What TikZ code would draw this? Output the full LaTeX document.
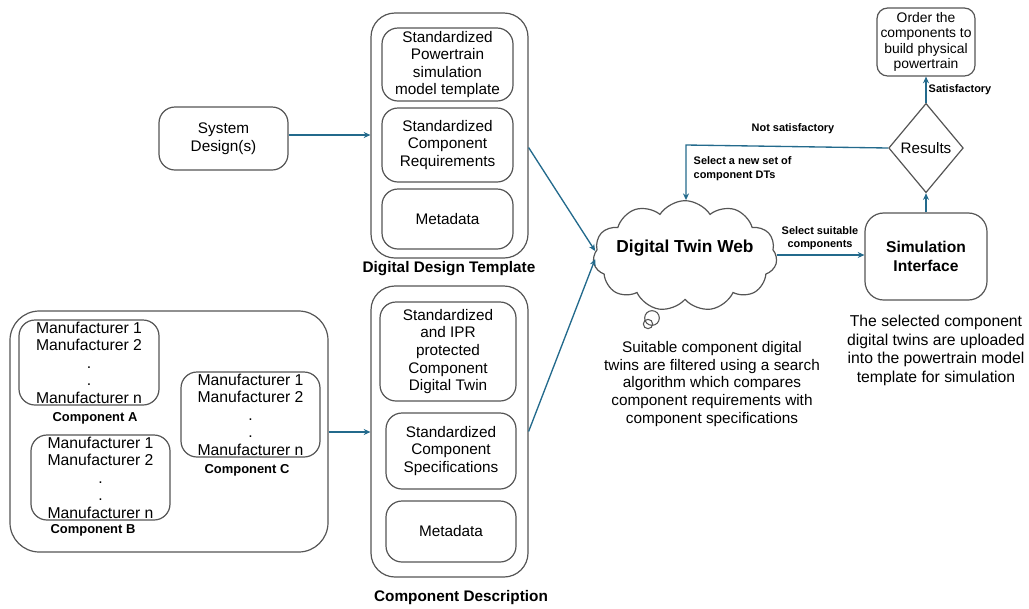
\documentclass[tikz,border=0pt]{standalone}
\usepackage{fontspec}
\setmainfont{Liberation Sans}
\usetikzlibrary{arrows.meta,shapes.geometric,shapes.symbols,calc}
\definecolor{flow}{HTML}{236A8C}
\definecolor{edge}{HTML}{555555}
\tikzset{
  box/.style={draw=edge, line width=0.9pt, rounded corners=#1, align=center, inner sep=1pt},
  box/.default=12pt,
  outer/.style={draw=edge, line width=0.9pt, rounded corners=18pt},
  txt/.style={font=\fontsize{11.5}{13.2}\selectfont},
  mtxt/.style={font=\fontsize{11.8}{13.1}\selectfont},
  lbl/.style={font=\bfseries\fontsize{11.5}{13}\selectfont},
  small/.style={font=\bfseries\fontsize{8.2}{10}\selectfont, align=center},
  comp/.style={font=\bfseries\fontsize{9.7}{11}\selectfont},
  flowline/.style={draw=flow, line width=1pt, -{Stealth[length=5pt,width=4.5pt]}},
}
\begin{document}
\begin{tikzpicture}[x=0.75pt,y=-0.75pt]
\useasboundingbox (0,0) rectangle (1029,608);

% system design input
\node[box=12pt, txt, minimum width=96.75pt, minimum height=47.25pt] (sys) at (223.5,138.5) {System\\Design(s)};

% digital design template
\node[outer, minimum width=117.75pt, minimum height=183.75pt] (ddt) at (449.5,135.5) {};
\node[box, txt, minimum width=98.25pt, minimum height=54.75pt] (ddt1) at (447.5,64.5) {Standardized\\Powertrain\\simulation\\model template};
\node[box, txt, minimum width=98.25pt, minimum height=55.5pt] (ddt2) at (447.5,145) {Standardized\\Component\\Requirements};
\node[box, txt, minimum width=98.25pt, minimum height=45pt] (ddt3) at (447.5,219) {Metadata};
\node[lbl] (ddtl) at (449,269) {Digital Design Template};

% component description
\node[outer, minimum width=117.75pt, minimum height=218.25pt] (cd) at (449.5,431.5) {};
\node[box, txt, minimum width=102pt, minimum height=74.25pt] (cd1) at (448,351.5) {Standardized\\and IPR\\protected\\Component\\Digital Twin};
\node[box, txt, minimum width=97.5pt, minimum height=57pt] (cd2) at (451,451) {Standardized\\Component\\Specifications};
\node[box, txt, minimum width=97.5pt, minimum height=45.75pt] (cd3) at (451,531.5) {Metadata};
\node[lbl] (cdl) at (461,598) {Component Description};

% manufacturers grouped per component
\node[outer, rounded corners=22pt, minimum width=238.5pt, minimum height=180.75pt] (mfr) at (169,431.5) {};
\node[box, mtxt, minimum width=105pt, minimum height=63.75pt, inner sep=0pt] (ca) at (89,362.5) {Manufacturer 1\\Manufacturer 2\\.\\.\\Manufacturer n};
\node[comp] (cal) at (95,418) {Component A};
\node[box, mtxt, minimum width=104.25pt, minimum height=63.75pt, inner sep=0pt] (cb) at (100.5,477.5) {Manufacturer 1\\Manufacturer 2\\.\\.\\Manufacturer n};
\node[comp] (cbl) at (93,530) {Component B};
\node[box, mtxt, minimum width=104.25pt, minimum height=63.75pt, inner sep=0pt] (cc) at (250.5,414.5) {Manufacturer 1\\Manufacturer 2\\.\\.\\Manufacturer n};
\node[comp] (ccl) at (247,470) {Component C};

% digital twin web: cloud outline with its title laid on top
\node[cloud, cloud puffs=11, cloud puff arc=115, draw=edge, line width=0.9pt,
      minimum width=138pt, minimum height=83pt, inner sep=0pt] (web) at (685,256) {};
\node[font=\bfseries\fontsize{13}{15}\selectfont] (webtitle) at (685,248) {Digital Twin Web};
\node[circle, draw=edge, line width=0.8pt, minimum size=11pt, inner sep=0pt] (b1) at (652,318) {};
\node[circle, draw=edge, line width=0.8pt, minimum size=7pt, inner sep=0pt] (b2) at (648,324) {};
\node[txt, align=center] (webnote) at (712,384) {Suitable component digital\\twins are filtered using a search\\algorithm which compares\\component requirements with\\component specifications};

% simulation and evaluation
\node[box=14pt, font=\bfseries\fontsize{11.7}{14}\selectfont, minimum width=91.5pt, minimum height=65.25pt] (sim) at (926,256.5) {Simulation\\Interface};
\node[txt, font=\fontsize{11.8}{14}\selectfont, align=center] (simnote) at (936,350.5) {The selected component\\digital twins are uploaded\\into the powertrain model\\template for simulation};
\node[diamond, draw=edge, line width=0.9pt, minimum width=56pt, minimum height=67pt, inner sep=0pt, font=\fontsize{11.4}{13}\selectfont] (res) at (926,148) {Results};
\node[box=8pt, font=\fontsize{10.4}{11.4}\selectfont, minimum width=73.5pt, minimum height=51pt, inner sep=0pt] (order) at (926,42) {Order the\\components to\\build physical\\powertrain};

% connectors
\draw[flowline] (sys.east |- 0,135) -- (ddt.west |- 0,135);
\draw[flowline] (mfr.east |- 0,432) -- (cd.west |- 0,432);
\draw[flowline] ($(ddt.east)+(0,12)$) -- ($(web.west)+(2,-5)$);
\draw[flowline] (cd.east) -- ($(web.west)+(2,3)$);
\draw[flowline] (web.east |- 0,255) -- (sim.west |- 0,255);
\draw[flowline] (sim.north) -- (res.south);
\draw[flowline] (res.north) -- (order.south);
\coordinate (turn) at (686,145);
\draw[flowline] (res.west) -- (turn) -- (turn |- web.north);

% connector labels
\node[small] at (820,238) {Select suitable\\components};
\node[small] at (960,90) {Satisfactory};
\node[small] at (793,129) {Not satisfactory};
\node[small, align=left, anchor=west] at (689,168.5) {Select a new set of\\component DTs};
\end{tikzpicture}
\end{document}
